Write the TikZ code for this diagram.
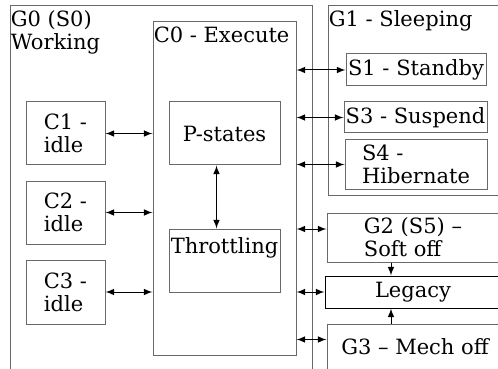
\documentclass[tikz,border=0pt]{standalone}
\usepackage{fontspec}
\setmainfont{DejaVu Serif}
\usetikzlibrary{fit,calc}
\definecolor{boxgray}{RGB}{105,105,105}

\begin{document}
\begin{tikzpicture}[x=0.5pt,y=-0.5pt,line width=0.5pt,>=latex,
  font=\fontsize{10.5}{11.5}\selectfont,
  box/.style={draw=boxgray,inner sep=0pt},
  txt/.style={align=left,inner sep=0pt},
  title/.style={anchor=north west,inner xsep=0.4pt,inner ysep=2.4pt,align=left}]
\useasboundingbox (0,0) rectangle (498,369);
\clip (0,0) rectangle (498,369);
% G0 working
\node[box, fit={(10,6) (312,400)}] (g0) {};
\node[title] (g0t) at (g0.north west) {G0 (S0)\\Working};
\node[box, fit={(153,22) (296,355)}] (c0) {};
\node[title] (c0t) at (c0.north west) {C0 - Execute};
\node[box, fit={(169,102) (280,165)}] (pst) {};
\node[txt] (pstt) at (pst) {P-states};
\node[box, fit={(169,229) (280,292)}] (thr) {};
\node[anchor=north,inner sep=4.4pt] (thrt) at (thr.north) {Throttling};
\node[box, fit={(26,102) (105,165)}] (c1) {};
\node[txt] (c1t) at (c1) {C1 -\\idle};
\node[box, fit={(26,181) (105,244)}] (c2) {};
\node[txt] (c2t) at (c2) {C2 -\\idle};
\node[box, fit={(26,260) (105,324)}] (c3) {};
\node[txt] (c3t) at (c3) {C3 -\\idle};
% G1 sleeping
\node[box, fit={(328,6) (503,195)}] (g1) {};
\node[title] (g1t) at (g1.north west) {G1 - Sleeping};
\node[box, fit={(346,54) (486,86)}] (s1) {};
\node[txt] (s1t) at (s1) {S1 - Standby};
\node[box, fit={(344,102) (487,133)}] (s3) {};
\node[txt] (s3t) at (s3) {S3 - Suspend};
\node[box, fit={(345,140) (487,189)}] (s4) {};
\node[txt] (s4t) at (s4) {S4 -\\Hibernate};
% G2, G3
\node[box, fit={(327,213) (503,262)}] (g2) {};
\node[txt] (g2t) at ($(g2)+(-2,0)$) {G2 (S5) –\\Soft off};
\node[box, draw=black, fit={(325,276) (503,308)}] (leg) {};
\node[txt] (legt) at ($(leg)+(-1,0)$) {Legacy};
\node[box, fit={(327,324) (503,400)}] (g3) {};
\node[txt] (g3t) at (415,347) {G3 – Mech off};
% arrows
\draw [<->] (c1.east) -- (c1.east -| c0.west);
\draw [<->] (c2.east) -- (c2.east -| c0.west);
\draw [<->] (c3.east) -- (c3.east -| c0.west);
\draw [<->] ([xshift=-4pt]pst.south) -- ([xshift=-4pt]thr.north);
\draw [<->] (s1.west -| c0.east) -- (s1.west);
\draw [<->] (s3.west -| c0.east) -- (s3.west);
\draw [<->] (s4.west -| c0.east) -- (s4.west);
\coordinate (g2in) at ($(g2.west)+(0,-8.5)$);
\coordinate (g3in) at ($(g3.north west)+(0,16)$);
\draw [<->] (g2in -| c0.east) -- (g2in);
\draw [<->] (leg.west -| c0.east) -- (leg.west);
\draw [<->] (g3in -| c0.east) -- (g3in);
\coordinate (vx) at (391,0);
\draw [->] (g2.south -| vx) -- (leg.north -| vx);
\draw [->] (g3.north -| vx) -- (leg.south -| vx);
\end{tikzpicture}
\end{document}
